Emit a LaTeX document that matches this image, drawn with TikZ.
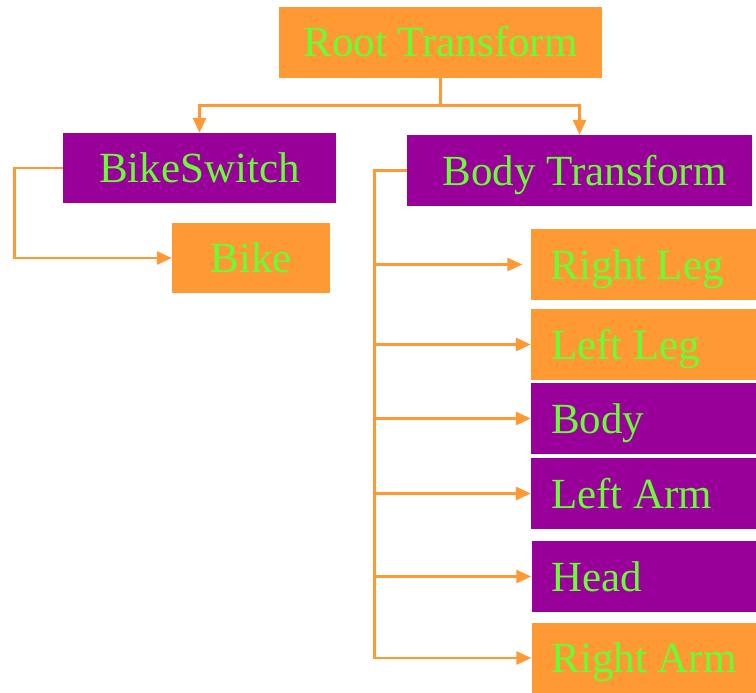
\documentclass[tikz,border=0pt]{standalone}
\usepackage{fontspec}
\setmainfont{Liberation Serif}
\usepackage{tikz}
\usetikzlibrary{arrows.meta}
\definecolor{orng}{HTML}{FF9933}
\definecolor{purp}{HTML}{990099}
\definecolor{lime}{HTML}{66FF33}
\newcommand{\leaftext}[1]{\makebox[185pt][l]{#1}}
\tikzstyle{part}=[rectangle, inner sep=0pt, text=lime, font=\fontsize{43}{50}\selectfont, text height=29pt, text depth=0pt, minimum height=71pt]
\tikzstyle{leaf}=[part, minimum width=225pt]
\tikzstyle{link}=[draw=orng, line width=2.8pt, -{Triangle[length=15pt, width=13pt]}, color=orng]

\begin{document}
\begin{tikzpicture}[x=1pt, y=-1pt]
                    \useasboundingbox (0, 0) rectangle (756, 693);
                    \node[part, fill=orng, minimum width=323pt] (root) at (440.5, 42.5) {Root Transform};
                    \node[part, fill=purp, minimum width=273pt, minimum height=70pt] (bsw) at (199.5, 168) {BikeSwitch};
                    \node[part, fill=orng, minimum width=158pt, minimum height=70pt] (bike) at (251, 258) {Bike};
                    \node[part, fill=purp, minimum width=345pt] (bt) at (579.5, 170.5) {\hspace{10pt}Body Transform};
                    \node[leaf, fill=orng] (rleg) at (643, 264.5) {\leaftext{Right Leg}};
                    \node[leaf, fill=orng] (lleg) at (643.5, 344.5) {\leaftext{Left Leg}};
                    \node[leaf, fill=purp] (body) at (643.5, 418.5) {\leaftext{Body}};
                    \node[leaf, fill=purp] (larm) at (643.5, 493.5) {\leaftext{Left Arm}};
                    \node[leaf, fill=purp] (head) at (644, 576.5) {\leaftext{Head}};
                    \node[leaf, fill=orng, minimum height=70pt] (rarm) at (644, 658) {\leaftext{Right Arm}};
                    \draw[link] (root.south) -- ++(0, 27) coordinate (split) -| (bsw.north);
                    \draw[link] (split) -| (bt.north);
                    \draw[link] (bsw.west) -- ++(-48, 0) |- (bike.west);
                    \draw[link] (bt.west) -- ++(-32, 0) coordinate (trunk) |- (rarm.west);
                    \draw[link, shorten >=8pt] (trunk |- rleg.west) -- (rleg.west);
                    \foreach \n in {lleg, body, larm, head}
                        \draw[link] (trunk |- \n.west) -- (\n.west);
                \end{tikzpicture}
\end{document}
